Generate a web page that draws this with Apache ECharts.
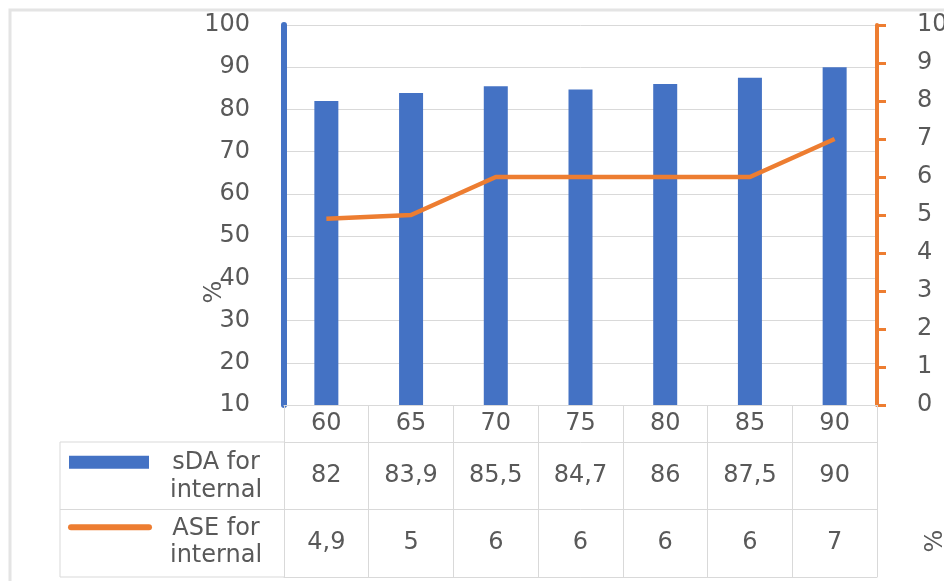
<!DOCTYPE html>
<html><head><meta charset="utf-8">
<script src="https://cdn.jsdelivr.net/npm/echarts@6/dist/echarts.min.js"></script>
<style>html,body{margin:0;padding:0;background:#fff}#c{width:944px;height:581px}</style>
</head><body><div id="c"></div>
<script>
const categories = ['60', '65', '70', '75', '80', '85', '90'];
const sdaValues = [82, 83.9, 85.5, 84.7, 86, 87.5, 90];
const aseValues = [4.9, 5, 6, 6, 6, 6, 7];
const seriesNames = ['sDA for internal', 'ASE for internal'];
const legendLines = [['sDA for', 'internal'], ['ASE for', 'internal']];
const tableRows = ['sDA', 'ASE'];
const leftAxisName = '%';
const rightAxisName = '%';

const BLUE = '#4472C4', ORANGE = '#ED7D31', GRID = '#d9d9d9', TXT = '#595959';
const FONT = 'DejaVu Sans';
const fmt = v => String(v).replace('.', ',');

const chart = echarts.init(document.getElementById('c'));

const G0 = {left: 284, right: 67, top: 25, bottom: 176};
const G1 = {left: 284, right: 67, top: 442, bottom: 4};

chart.setOption({
  animation: false,
  backgroundColor: '#fff',
  textStyle: {fontFamily: FONT},
  grid: [
    Object.assign({}, G0, {containLabel: false, outerBoundsMode: 'none'}),
    Object.assign({}, G1, {containLabel: false, outerBoundsMode: 'none'})
  ],
  xAxis: [
    {
      type: 'category', gridIndex: 0, data: categories,
      axisLine: {show: true, lineStyle: {color: GRID, width: 1}},
      axisTick: {show: true, length: 37, lineStyle: {color: GRID, width: 1}},
      axisLabel: {color: TXT, fontSize: 24, fontFamily: FONT, margin: 7},
      splitLine: {show: false}
    },
    {
      type: 'category', gridIndex: 1, data: categories,
      axisLine: {show: true, lineStyle: {color: GRID, width: 1}},
      axisTick: {show: false},
      axisLabel: {show: false},
      splitLine: {show: true, lineStyle: {color: GRID, width: 1}}
    }
  ],
  yAxis: [
    {
      type: 'value', gridIndex: 0, min: 10, max: 100, interval: 10, position: 'left',
      axisLine: {show: true, lineStyle: {color: BLUE, width: 6}},
      axisTick: {show: false},
      axisLabel: {color: TXT, fontSize: 24, fontFamily: FONT, margin: 34},
      splitLine: {show: true, lineStyle: {color: GRID, width: 1}}
    },
    {
      type: 'value', gridIndex: 0, min: 0, max: 10, interval: 1, position: 'right',
      axisLine: {show: true, lineStyle: {color: ORANGE, width: 4}},
      axisTick: {show: true, length: 9, lineStyle: {color: ORANGE, width: 3}},
      axisLabel: {color: TXT, fontSize: 24, fontFamily: FONT, margin: 40},
      splitLine: {show: false}
    },
    {
      type: 'category', gridIndex: 1, data: tableRows, inverse: true,
      axisLine: {show: true, lineStyle: {color: GRID, width: 1}},
      axisTick: {show: false},
      axisLabel: {show: false},
      splitLine: {show: true, lineStyle: {color: GRID, width: 1}}
    }
  ],
  series: [
    {
      name: seriesNames[0], type: 'bar', xAxisIndex: 0, yAxisIndex: 0,
      data: sdaValues, barWidth: 24, itemStyle: {color: BLUE}
    },
    {
      name: seriesNames[1], type: 'line', xAxisIndex: 0, yAxisIndex: 1,
      data: aseValues, symbol: 'none', lineStyle: {color: ORANGE, width: 4.5},
      itemStyle: {color: ORANGE}
    },
    {
      name: 'table-sDA', type: 'scatter', xAxisIndex: 1, yAxisIndex: 2,
      symbolSize: 1, itemStyle: {color: 'rgba(0,0,0,0)', opacity: 1}, silent: true,
      data: sdaValues.map((v, i) => [i, 0, v]),
      label: {show: true, position: 'inside', formatter: p => fmt(p.value[2]),
        color: TXT, fontSize: 24, fontFamily: FONT, opacity: 1}
    },
    {
      name: 'table-ASE', type: 'scatter', xAxisIndex: 1, yAxisIndex: 2,
      symbolSize: 1, itemStyle: {color: 'rgba(0,0,0,0)', opacity: 1}, silent: true,
      data: aseValues.map((v, i) => [i, 1, v]),
      label: {show: true, position: 'inside', formatter: p => fmt(p.value[2]),
        color: TXT, fontSize: 24, fontFamily: FONT, opacity: 1}
    }
  ]
});

// Table legend column and frame
const rowTop0 = chart.convertToPixel({yAxisIndex: 2}, tableRows[0]);
const rowTop1 = chart.convertToPixel({yAxisIndex: 2}, tableRows[1]);
const tableTop = G1.top, tableBottom = 581 - G1.bottom, tableMid = (rowTop0 + rowTop1) / 2;
const legendLeft = 60, legendRight = G1.left;
const textCx = 216;
const F = '24px "DejaVu Sans"';

chart.setOption({
  graphic: [
    {type: 'rect', shape: {x: 10, y: 10, width: 1000, height: 1000},
      style: {fill: 'none', stroke: '#e4e4e4', lineWidth: 3}, silent: true},
    {type: 'line', shape: {x1: legendLeft, y1: tableTop, x2: legendRight, y2: tableTop}, style: {stroke: GRID, lineWidth: 1}},
    {type: 'line', shape: {x1: legendLeft, y1: tableMid, x2: legendRight, y2: tableMid}, style: {stroke: GRID, lineWidth: 1}},
    {type: 'line', shape: {x1: legendLeft, y1: tableBottom, x2: legendRight, y2: tableBottom}, style: {stroke: GRID, lineWidth: 1}},
    {type: 'line', shape: {x1: legendLeft, y1: tableTop, x2: legendLeft, y2: tableBottom}, style: {stroke: GRID, lineWidth: 1}},
    {type: 'rect', shape: {x: 69, y: rowTop0 - 20, width: 80, height: 13}, style: {fill: BLUE}},
    {type: 'line', shape: {x1: 71, y1: rowTop1 - 16, x2: 149, y2: rowTop1 - 16},
      style: {stroke: ORANGE, lineWidth: 6, lineCap: 'round'}},
    {type: 'text', x: textCx, y: rowTop0 - 13, style: {text: legendLines[0][0], fill: TXT, font: F, textAlign: 'center', textVerticalAlign: 'middle'}},
    {type: 'text', x: textCx, y: rowTop0 + 15, style: {text: legendLines[0][1], fill: TXT, font: F, textAlign: 'center', textVerticalAlign: 'middle'}},
    {type: 'text', x: textCx, y: rowTop1 - 14, style: {text: legendLines[1][0], fill: TXT, font: F, textAlign: 'center', textVerticalAlign: 'middle'}},
    {type: 'text', x: textCx, y: rowTop1 + 13, style: {text: legendLines[1][1], fill: TXT, font: F, textAlign: 'center', textVerticalAlign: 'middle'}},
    {type: 'text', x: 215, y: 292, rotation: Math.PI / 2, style: {text: leftAxisName, fill: TXT, font: F, textAlign: 'center', textVerticalAlign: 'middle'}},
    {type: 'text', x: 936, y: 541, rotation: Math.PI / 2, style: {text: rightAxisName, fill: TXT, font: F, textAlign: 'center', textVerticalAlign: 'middle'}}
  ]
});
</script></body></html>
